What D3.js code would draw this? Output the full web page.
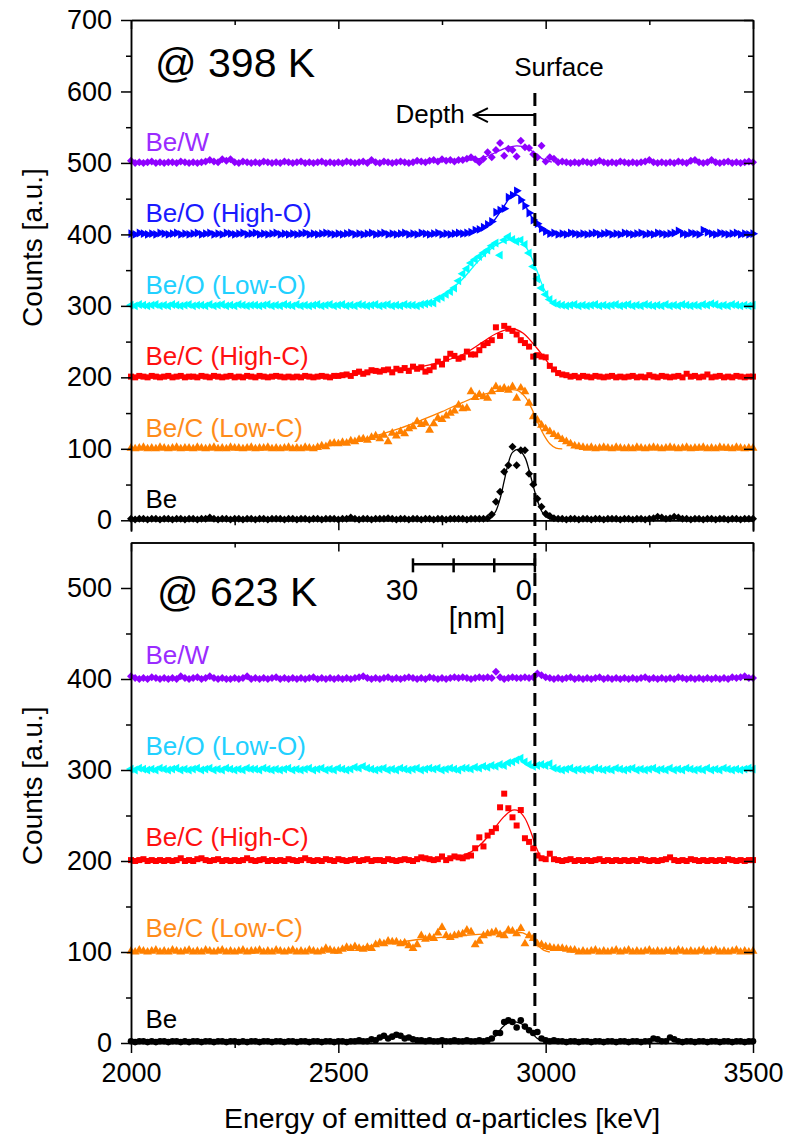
<!DOCTYPE html>
<html>
<head>
<meta charset="utf-8">
<script src="https://cdn.jsdelivr.net/npm/d3@7"></script>
<style>
  body { margin: 0; background: #fff; }
  svg { font-family: "Liberation Sans", Arial, sans-serif; }
</style>
</head>
<body>
<div class="chart"></div>
<script>
// channel energies [keV], shared by every spectrum
const energy = [
  2000,2010,2020,2030,2040,2050,2060,2070,2080,2090,
  2100,2110,2120,2130,2140,2150,2160,2170,2180,2190,
  2200,2210,2220,2230,2240,2250,2260,2270,2280,2290,
  2300,2310,2320,2330,2340,2350,2360,2370,2380,2390,
  2400,2410,2420,2430,2440,2450,2460,2470,2480,2490,
  2500,2510,2520,2530,2540,2550,2560,2570,2580,2590,
  2600,2610,2620,2630,2640,2650,2660,2670,2680,2690,
  2700,2710,2720,2730,2740,2750,2760,2770,2780,2790,
  2800,2810,2820,2830,2840,2850,2860,2870,2880,2890,
  2900,2910,2920,2930,2940,2950,2960,2970,2980,2990,
  3000,3010,3020,3030,3040,3050,3060,3070,3080,3090,
  3100,3110,3120,3130,3140,3150,3160,3170,3180,3190,
  3200,3210,3220,3230,3240,3250,3260,3270,3280,3290,
  3300,3310,3320,3330,3340,3350,3360,3370,3380,3390,
  3400,3410,3420,3430,3440,3450,3460,3470,3480,3490,
  3500];

// ---- 398 K (counts, already offset by 100 per sample) ----
const be398 = [
  2,1,2,2,1,2,2,1,2,2, 1,2,2,1,2,2,1,2,2,4, 2,1,2,2,1,2,2,1,2,2,
  1,2,2,1,2,2,2,1,2,2, 1,2,2,1,2,2,1,2,2,2, 1,2,2,4,2,1,2,2,1,2,
  2,2,3,2,1,2,2,1,2,2, 1,2,2,1,2,2,1,2,2,2, 2,1,2,2,2,2,3,8,26,40,
  68,77,103,77,98,98,65,50,30,19, 9,6,3,2,2,1,2,2,1,2, 2,1,2,2,1,2,2,2,1,2,
  2,1,2,2,1,2,3,5,4,2, 3,5,4,2,2,1,2,2,1,2, 2,1,2,2,1,2,2,1,2,2,
  2];
const beCLow398 = [
  101,100,101,102,100,101,100,102,101,100, 101,102,100,101,101,100,102,101,100,101,
  102,100,101,100,102,101,101,100,101,102, 100,101,101,102,100,101,100,101,102,100,
  101,100,102,101,100,102,104,103,107,108, 107,109,108,111,110,113,114,112,116,118,
  114,119,110,122,118,124,121,128,131,138, 134,136,126,135,143,141,146,150,153,161,
  156,157,180,172,176,173,171,180,187,183, 185,182,187,171,185,180,164,145,140,133,
  128,124,120,117,113,110,107,104,103,102, 101,102,100,101,102,101,100,102,101,100,
  101,100,102,101,100,101,102,101,100,101, 102,101,100,101,102,100,101,101,102,100,
  101,100,102,101,101,100,102,101,100,101,
  101];
const beCHigh398 = [
  201,200,202,201,200,202,201,200,201,202, 200,201,202,200,201,201,200,202,201,200,
  202,201,200,201,202,200,201,200,202,201, 200,202,201,200,201,202,201,200,201,200,
  201,200,202,201,200,201,202,201,200,202, 202,203,204,202,206,208,205,207,210,209,
  208,210,211,207,212,210,213,209,215,212, 214,208,210,215,222,218,226,233,230,226,
  228,236,232,232,238,245,248,252,270,258, 272,268,265,260,252,248,243,229,231,229,
  228,216,211,206,204,203,201,202,200,202, 201,200,202,201,200,201,202,200,201,200,
  201,202,200,201,200,203,201,200,202,201, 200,201,202,200,205,201,202,200,201,204,
  200,201,202,200,201,200,202,201,200,201,
  201];
const beOLow398 = [
  301,300,302,301,300,301,302,300,301,300, 302,301,300,301,302,300,301,301,300,302,
  300,301,302,300,301,300,302,301,300,301, 301,300,301,302,300,301,300,302,301,300,
  302,300,301,300,301,302,300,301,302,300, 301,302,300,301,300,302,301,300,301,302,
  300,301,302,300,301,300,302,301,301,300, 302,303,304,304,310,312,316,320,325,335,
  345,352,360,365,369,374,378,384,388,371, 392,397,393,390,392,386,374,355,338,325,
  316,309,304,302,301,300,301,302,300,301, 300,301,302,300,301,300,301,302,300,301,
  302,300,301,300,302,301,300,301,300,302, 300,301,300,302,301,300,301,300,302,301,
  303,302,300,301,300,302,301,300,301,300,
  301];
const beOHigh398 = [
  401,400,402,401,400,401,400,402,401,400, 401,402,400,401,400,401,402,400,401,402,
  400,401,400,402,401,400,401,402,400,401, 402,400,401,400,401,402,400,401,400,401,
  400,401,402,400,401,400,401,402,401,400, 401,400,401,402,400,401,400,401,402,400,
  401,402,400,401,400,401,402,400,401,400, 402,401,400,401,402,400,401,400,401,402,
  401,402,403,406,407,410,414,418,431,434, 436,452,455,461,448,440,430,420,415,408,
  404,401,402,400,401,400,402,401,400,401, 400,401,402,400,401,402,400,401,400,402,
  401,400,401,402,400,401,400,402,401,400, 401,402,405,401,400,402,401,400,406,403,
  401,400,402,401,400,401,402,400,401,400,
  401];
const beW398 = [
  503,500,501,500,501,502,500,501,500,501, 501,500,502,501,500,501,500,501,502,504,
  502,501,505,503,505,501,500,502,501,500, 501,500,502,501,500,501,500,502,501,500,
  501,502,500,501,500,501,502,500,501,500, 501,500,502,501,500,501,502,500,504,501,
  500,502,501,500,501,502,501,500,501,503, 502,501,503,504,502,505,503,504,502,504,
  504,506,508,505,501,506,515,508,518,528, 510,520,518,509,531,522,521,512,508,524,
  502,508,506,501,502,501,500,501,500,502, 501,500,501,503,501,500,501,500,502,501,
  500,501,500,501,502,504,501,500,501,500, 501,500,502,501,500,503,504,501,500,501,
  504,501,500,501,502,500,501,500,501,502,
  501];

// ---- 623 K ----
const be623 = [
  2,1,2,2,1,2,1,2,2,1, 2,2,1,2,1,2,2,1,2,2, 1,2,2,1,2,2,1,2,1,2,
  2,1,2,2,1,2,2,1,2,2, 1,2,2,1,2,2,1,2,2,1, 2,2,1,2,2,3,2,2,4,3,
  6,8,5,7,9,8,5,6,4,3, 3,2,3,2,2,3,2,2,3,2, 2,3,2,2,3,2,3,5,11,11,
  23,25,23,17,25,18,14,11,12,5, 3,2,3,2,2,1,2,2,1,2, 2,1,2,2,1,2,2,1,2,2,
  1,2,2,1,2,2,5,4,2,2, 6,4,2,1,2,2,1,2,2,1, 2,2,1,2,2,1,2,2,1,2,
  2];
const beCLow623 = [
  101,100,102,101,100,101,102,100,101,100, 102,101,100,101,102,100,101,100,102,101,
  100,101,102,100,101,100,101,102,100,101, 101,102,100,101,100,102,101,100,101,102,
  100,101,100,102,101,100,101,104,102,101, 101,103,105,104,106,104,103,105,104,108,
  110,109,112,111,111,109,110,107,104,108, 118,114,116,115,121,127,118,116,118,119,
  120,124,122,108,112,118,120,121,122,119, 118,124,123,120,126,109,118,115,109,108,
  106,105,104,104,104,103,102,102,100,101, 100,101,102,100,101,100,101,102,100,101,
  102,100,101,100,101,102,100,101,100,101, 101,100,102,101,100,101,100,101,102,100,
  101,102,100,101,100,101,102,100,101,100,
  101];
const beCHigh623 = [
  201,200,201,202,200,201,200,201,200,201, 200,201,203,200,201,200,202,203,201,200,
  201,202,200,201,200,201,200,201,203,201, 200,201,202,200,201,200,201,200,202,201,
  200,201,203,201,200,201,200,202,201,200, 202,201,200,201,202,200,201,202,200,201,
  201,200,202,201,200,201,202,201,200,202, 204,203,202,201,202,205,201,203,205,204,
  203,205,206,214,226,216,228,232,236,259, 274,258,248,239,256,225,221,214,206,203,
  202,208,202,201,200,201,202,200,201,200, 201,200,201,202,200,201,200,201,200,201,
  200,201,200,202,201,200,201,200,201,202, 204,201,200,201,200,202,201,200,201,200,
  201,200,201,200,202,201,200,201,200,201,
  201];
const beOLow623 = [
  301,300,302,301,300,301,300,302,301,300, 301,302,300,301,300,301,302,300,301,302,
  300,301,300,302,301,300,301,300,302,301, 301,300,302,301,300,301,300,301,302,300,
  301,300,301,302,300,301,302,300,301,300, 302,301,300,301,303,302,304,302,301,300,
  301,302,300,301,300,302,301,300,301,302, 300,301,302,301,302,300,301,302,301,300,
  302,302,301,303,302,304,303,305,304,306, 305,308,309,311,313,309,306,304,305,306,
  305,307,302,301,300,301,302,300,301,300, 301,300,302,301,300,301,300,302,301,300,
  301,302,300,301,300,301,302,300,301,300, 302,300,301,300,302,301,300,301,300,302,
  300,301,300,302,301,300,301,300,301,302,
  301];
const beW623 = [
  403,401,400,401,400,402,401,400,401,400, 401,400,403,401,400,401,402,400,401,403,
  401,400,401,400,400,401,400,401,403,400, 401,400,401,400,401,402,400,401,400,401,
  400,401,400,401,402,400,401,400,401,400, 401,400,401,400,401,402,403,401,400,401,
  400,401,402,400,401,400,401,402,401,400, 401,400,402,401,400,401,400,401,402,401,
  402,401,400,401,402,401,402,401,408,402, 400,401,402,401,401,402,401,402,406,404,
  402,401,400,401,400,401,402,400,401,400, 401,400,401,402,400,401,400,401,400,401,
  400,401,400,401,402,400,401,400,401,400, 401,400,402,401,400,401,400,401,400,401,
  400,401,400,401,400,402,401,402,403,401,
  401];

// fitted profiles [energy, counts]
const fitBe398 = [[2850,1],[2870,5],[2880,13],[2890,30],[2900,55],[2910,80],[2920,95],[2935,99],[2950,88],[2960,70],[2970,48],[2980,28],[2990,13],[3000,5],[3015,1]];
const fitCLow398 = [[2420,101],[2500,106],[2550,112],[2600,120],[2650,129],[2700,140],[2750,152],[2800,165],[2850,176],[2900,182],[2930,182],[2950,173],[2965,158],[2980,138],[2995,120],[3010,107],[3025,101],[3040,100]];
const fitCHigh398 = [[2480,201],[2550,205],[2600,208],[2650,211],[2700,215],[2750,222],[2800,232],[2850,250],[2880,261],[2920,268],[2945,262],[2970,247],[2995,229],[3020,210],[3045,202],[3080,200]];
const fitOLow398 = [[2690,301],[2740,310],[2790,332],[2840,364],[2880,385],[2915,393],[2935,392],[2955,380],[2975,355],[2995,325],[3015,306],[3035,301]];
const fitOHigh398 = [[2790,401],[2840,406],[2870,416],[2900,440],[2920,455],[2935,454],[2955,436],[2975,416],[2995,404],[3015,400]];
const fitW398 = [[2790,503],[2840,506],[2870,512],[2900,520],[2930,524],[2955,521],[2975,513],[2995,505],[3015,501]];
const fitBe623 = [[2860,2],[2880,8],[2895,17],[2910,22],[2930,23],[2950,19],[2965,12],[2980,5],[2995,2]];
const fitCLow623 = [[2450,100],[2500,102],[2600,108],[2700,114],[2800,118],[2900,121],[2945,121],[2965,115],[2980,108],[2995,102],[3010,100]];
const fitCHigh623 = [[2700,201],[2780,204],[2820,210],[2845,219],[2870,232],[2900,249],[2920,256],[2935,255],[2950,247],[2965,231],[2978,214],[2990,204],[3005,200]];

// sample names and vertical offsets (counts)
const labels398 = ["Be", "Be/C (Low-C)", "Be/C (High-C)", "Be/O (Low-O)", "Be/O (High-O)", "Be/W"];
const offsets398 = [0, 100, 200, 300, 400, 500];
const labels623 = ["Be", "Be/C (Low-C)", "Be/C (High-C)", "Be/O (Low-O)", "Be/W"];
const offsets623 = [0, 100, 200, 300, 400];

// ticks
const xTicks = [2000, 2500, 3000, 3500];
const xMinor = [2250, 2750, 3250];
const yTicks398 = [0, 100, 200, 300, 400, 500, 600, 700];
const yMinor398 = [50, 150, 250, 350, 450, 550, 650];
const yTicks623 = [0, 100, 200, 300, 400, 500];
const yMinor623 = [50, 150, 250, 350, 450];

const surfaceEnergy = 2974;   // keV
const depth30Energy = 2680;   // keV at 30 nm
const nmTicks = [0, 10, 20, 30];
const nmLabels = [0, 30];

// ---------------------------------------------------------------
const width = 794, height = 1135;
const font = '"Liberation Sans", Arial, sans-serif';

const svg = d3.select(".chart")
  .append("svg")
  .attr("width", width)
  .attr("height", height);

const xScale = d3.scaleLinear().domain([2000, 3500]).range([131, 753]);
const yTop = d3.scaleLinear().domain([-15, 700]).range([531, 20]);
const yBot = d3.scaleLinear().domain([0, 550]).range([1043, 542.5]);

const black = "#000";
const diamond = { type: d3.symbolSquare, size: 32, rotate: 45 };
const square = { type: d3.symbolSquare, size: 36, rotate: 0 };
const triUp = { type: d3.symbolTriangle, size: 34, rotate: 0 };
const triLeft = { type: d3.symbolTriangle, size: 34, rotate: -90 };
const triRight = { type: d3.symbolTriangle, size: 34, rotate: 90 };
const circle = { type: d3.symbolCircle, size: 34, rotate: 0 };

const panel398 = [
  { values: be398, fit: fitBe398, color: black, text: black, mark: diamond },
  { values: beCLow398, fit: fitCLow398, color: "#ff8000", text: "#ff8c1a", mark: triUp },
  { values: beCHigh398, fit: fitCHigh398, color: "#ff0000", text: "#ff1010", mark: square },
  { values: beOLow398, fit: fitOLow398, color: "#00ffff", text: "#22d0ff", mark: triLeft },
  { values: beOHigh398, fit: fitOHigh398, color: "#0000ff", text: "#1a1aff", mark: triRight },
  { values: beW398, fit: fitW398, color: "#8f00ff", text: "#9a2cff", mark: diamond }
];
const panel623 = [
  { values: be623, fit: fitBe623, color: black, text: black, mark: circle },
  { values: beCLow623, fit: fitCLow623, color: "#ff8000", text: "#ff8c1a", mark: triUp },
  { values: beCHigh623, fit: fitCHigh623, color: "#ff0000", text: "#ff1010", mark: square },
  { values: beOLow623, fit: null, color: "#00ffff", text: "#22d0ff", mark: triLeft },
  { values: beW623, fit: null, color: "#8f00ff", text: "#9a2cff", mark: diamond }
];

function styleAxis(g) {
  g.attr("font-family", font).attr("color", black);
  g.selectAll("path, line").attr("stroke-width", 1.5);
}

function drawFrame(yScale, yMajor, yMinor, withXLabels) {
  const yHigh = yScale.range()[1];
  const xLeft = xScale.range()[0], xRight = xScale.range()[1];

  // left axis, outward ticks with labels
  svg.append("g").attr("transform", `translate(${xLeft},0)`)
    .call(d3.axisLeft(yScale).tickValues(yMajor).tickSize(10).tickPadding(9).tickSizeOuter(0))
    .call(styleAxis)
    .selectAll("text").attr("font-size", 27);
  svg.append("g").attr("transform", `translate(${xLeft},0)`)
    .call(d3.axisLeft(yScale).tickValues(yMinor).tickSize(5).tickFormat("").tickSizeOuter(0))
    .call(styleAxis);

  // right mirror, inward ticks
  svg.append("g").attr("transform", `translate(${xRight},0)`)
    .call(d3.axisLeft(yScale).tickValues(yMajor).tickSize(9).tickFormat("").tickSizeOuter(0))
    .call(styleAxis);
  svg.append("g").attr("transform", `translate(${xRight},0)`)
    .call(d3.axisLeft(yScale).tickValues(yMinor).tickSize(5).tickFormat("").tickSizeOuter(0))
    .call(styleAxis);

  // top mirror, inward ticks
  svg.append("g").attr("transform", `translate(0,${yHigh})`)
    .call(d3.axisBottom(xScale).tickValues(xTicks).tickSize(9).tickFormat("").tickSizeOuter(0))
    .call(styleAxis);
  svg.append("g").attr("transform", `translate(0,${yHigh})`)
    .call(d3.axisBottom(xScale).tickValues(xMinor).tickSize(5).tickFormat("").tickSizeOuter(0))
    .call(styleAxis);

  // x axis at zero counts
  const xAxis = d3.axisBottom(xScale).tickValues(xTicks).tickSize(10).tickPadding(10)
    .tickSizeOuter(0).tickFormat(withXLabels ? d3.format("d") : "");
  svg.append("g").attr("transform", `translate(0,${yScale(0)})`)
    .call(xAxis)
    .call(styleAxis)
    .selectAll("text").attr("font-size", 27);
  svg.append("g").attr("transform", `translate(0,${yScale(0)})`)
    .call(d3.axisBottom(xScale).tickValues(xMinor).tickSize(5).tickFormat("").tickSizeOuter(0))
    .call(styleAxis);
}

function drawPanel(yScale, series, names, offsets) {
  const g = svg.append("g");
  series.forEach((s, k) => {
    const sym = d3.symbol(s.mark.type, s.mark.size);
    g.append("g")
      .selectAll("path")
      .data(energy.map((e, i) => [e, s.values[i]]))
      .join("path")
      .attr("d", sym)
      .attr("transform", d => `translate(${xScale(d[0])},${yScale(d[1])}) rotate(${s.mark.rotate})`)
      .attr("fill", s.color);

    if (s.fit) {
      const line = d3.line()
        .x(d => xScale(d[0]))
        .y(d => yScale(d[1]))
        .curve(d3.curveCatmullRom);
      g.append("path")
        .datum(s.fit)
        .attr("d", line)
        .attr("fill", "none")
        .attr("stroke", s.color)
        .attr("stroke-width", 1.3);
    }

    g.append("text")
      .attr("x", xScale(2035))
      .attr("y", yScale(offsets[k] + 17))
      .attr("font-family", font)
      .attr("font-size", 26)
      .attr("fill", s.text)
      .text(names[k]);
  });
}

drawPanel(yTop, panel398, labels398, offsets398);
drawPanel(yBot, panel623, labels623, offsets623);
drawFrame(yTop, yTicks398, yMinor398, false);
drawFrame(yBot, yTicks623, yMinor623, true);

// temperature tags
svg.append("text").attr("x", xScale(2058)).attr("y", yTop(620))
  .attr("font-family", font).attr("font-size", 41).text("@ 398 K");
svg.append("text").attr("x", xScale(2063)).attr("y", yBot(480))
  .attr("font-family", font).attr("font-size", 41).text("@ 623 K");

// axis titles
svg.append("text")
  .attr("transform", `translate(42,${(yTop(700) + yTop(-15)) / 2 - 28}) rotate(-90)`)
  .attr("text-anchor", "middle")
  .attr("font-family", font).attr("font-size", 28)
  .text("Counts [a.u.]");
svg.append("text")
  .attr("transform", `translate(42,${(yBot(550) + yBot(0)) / 2 - 7}) rotate(-90)`)
  .attr("text-anchor", "middle")
  .attr("font-family", font).attr("font-size", 28)
  .text("Counts [a.u.]");
svg.append("text")
  .attr("x", (xScale(2000) + xScale(3500)) / 2)
  .attr("y", 1128)
  .attr("text-anchor", "middle")
  .attr("font-family", font).attr("font-size", 28.5)
  .text("Energy of emitted \u03b1-particles [keV]");

// surface marker
const xs = xScale(surfaceEnergy);
svg.append("line")
  .attr("x1", xs).attr("x2", xs)
  .attr("y1", yTop(598)).attr("y2", yBot(14))
  .attr("stroke", black).attr("stroke-width", 3)
  .attr("stroke-dasharray", "13,7");
svg.append("text").attr("x", xScale(3032)).attr("y", yTop(622))
  .attr("text-anchor", "middle")
  .attr("font-family", font).attr("font-size", 26).text("Surface");
svg.append("text").attr("x", xScale(2805)).attr("y", yTop(556))
  .attr("text-anchor", "end")
  .attr("font-family", font).attr("font-size", 26).text("Depth");

const ya = yTop(567), xTip = xScale(2827);
svg.append("path")
  .attr("d", `M${xs},${ya}H${xTip}M${xTip + 14},${ya - 7}L${xTip},${ya}L${xTip + 14},${ya + 7}`)
  .attr("fill", "none").attr("stroke", black).attr("stroke-width", 2);

// depth scale bar (nm)
const nmScale = d3.scaleLinear().domain([0, 30]).range([xs, xScale(depth30Energy)]);
const yb = yBot(526);
svg.append("line")
  .attr("x1", nmScale(0)).attr("x2", nmScale(30))
  .attr("y1", yb).attr("y2", yb)
  .attr("stroke", black).attr("stroke-width", 2.5);
svg.append("g").selectAll("line").data(nmTicks).join("line")
  .attr("x1", d => nmScale(d)).attr("x2", d => nmScale(d))
  .attr("y1", yb - 6).attr("y2", yb + 8)
  .attr("stroke", black).attr("stroke-width", 2.5);
svg.append("g").selectAll("text").data(nmLabels).join("text")
  .attr("x", d => nmScale(d) - 11)
  .attr("y", yBot(487))
  .attr("text-anchor", "middle")
  .attr("font-family", font).attr("font-size", 29)
  .text(d => d);
svg.append("text")
  .attr("x", nmScale(15) + 3).attr("y", yBot(456))
  .attr("text-anchor", "middle")
  .attr("font-family", font).attr("font-size", 29)
  .text("[nm]");
</script>
</body>
</html>
